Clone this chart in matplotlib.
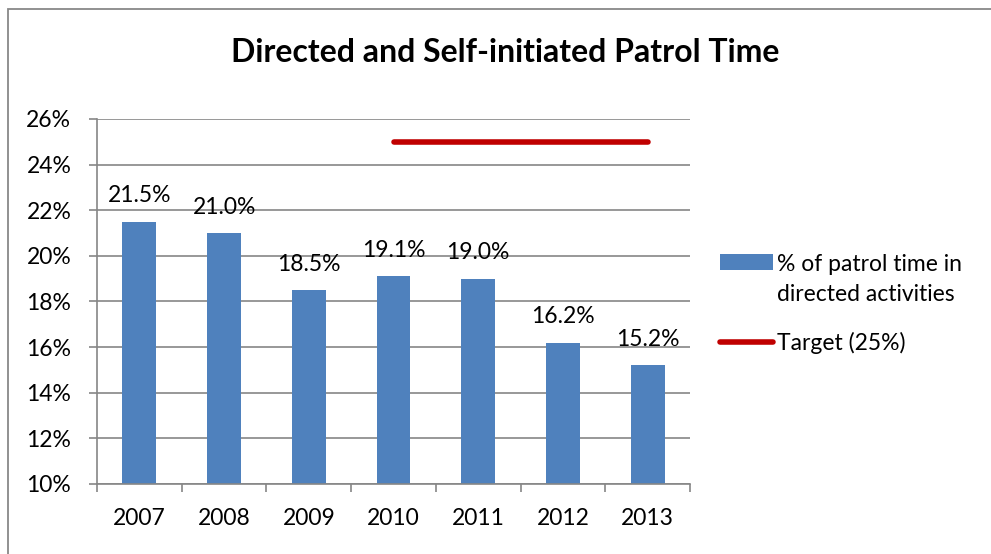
import matplotlib
matplotlib.use("Agg")
import matplotlib.pyplot as plt
from matplotlib.patches import Rectangle
from matplotlib.legend_handler import HandlerPatch
from matplotlib.ticker import FuncFormatter, FixedLocator
import numpy as np

years = ["2007", "2008", "2009", "2010", "2011", "2012", "2013"]
directed_pct = [21.5, 21.0, 18.5, 19.1, 19.0, 16.2, 15.2]
target_years = ["2010", "2011", "2012", "2013"]
target_pct = [25, 25, 25, 25]
y_ticks = [10, 12, 14, 16, 18, 20, 22, 24, 26]
series_labels = ["% of patrol time in\ndirected activities", "Target (25%)"]

plt.rcParams["font.family"] = ["Lato", "DejaVu Sans"]
BAR_COLOR = "#4F81BD"
TARGET_COLOR = "#C00000"
GRID_COLOR = "#868686"
FS = 16.5

fig = plt.figure(figsize=(9.91, 5.54), dpi=100)
ax = fig.add_axes([97 / 991, 1 - 484 / 554, (690 - 97) / 991, (484 - 119) / 554])

x = np.arange(len(years))
bars = ax.bar(x, directed_pct, width=0.40, color=BAR_COLOR, zorder=2)
tx = [years.index(y) for y in target_years]
line, = ax.plot(tx, target_pct, color=TARGET_COLOR, lw=4, solid_capstyle="round", zorder=3)

for xi, v in zip(x, directed_pct):
    ax.annotate(f"{v:.1f}%", (xi, v), xytext=(0, 11), textcoords="offset points",
                ha="center", va="bottom", fontsize=FS, color="black", zorder=4)

ax.set_xlim(-0.5, len(years) - 0.5)
ax.set_ylim(10, 26)
ax.yaxis.set_major_locator(FixedLocator(y_ticks))
ax.yaxis.set_major_formatter(FuncFormatter(lambda v, p: f"{v:.0f}%"))
ax.set_xticks(x)
ax.set_xticklabels(years)
ax.xaxis.set_minor_locator(FixedLocator(np.arange(-0.5, len(years), 1.0)))
ax.tick_params(axis="x", which="major", length=0, pad=17.5, labelsize=FS)
ax.tick_params(axis="x", which="minor", length=6, width=1.2, color=GRID_COLOR, direction="out")
ax.tick_params(axis="y", length=6, width=1.2, color=GRID_COLOR, pad=12.5, labelsize=FS)

ax.grid(axis="y", color=GRID_COLOR, lw=1.2, zorder=0)
ax.set_axisbelow(True)
for s in ["top", "right"]:
    ax.spines[s].set_visible(False)
for s in ["left", "bottom"]:
    ax.spines[s].set_color(GRID_COLOR)
    ax.spines[s].set_linewidth(1.2)

fig.text(505 / 991, 1 - 52 / 554, "Directed and Self-initiated Patrol Time",
         ha="center", va="center", fontsize=23, fontweight="bold")


# legend swatch sits level with the first line of its two-line label
def top_aligned_patch(legend, orig_handle, xdescent, ydescent, width, height, fontsize):
    return Rectangle((-xdescent, -ydescent + 13), width, height)


bar_handle = bars.patches[0]
leg = fig.legend(handles=[bar_handle, line], labels=series_labels, loc="upper left",
                 bbox_to_anchor=(720 / 991, 1 - 254 / 554), frameon=False,
                 fontsize=FS, handlelength=2.3, handleheight=0.65, handletextpad=0.2,
                 labelspacing=1.14, borderaxespad=0, borderpad=0,
                 handler_map={bar_handle: HandlerPatch(patch_func=top_aligned_patch)})
leg.get_texts()[0].set_linespacing(1.55)

# outer chart frame
fig.patches.append(Rectangle((7.5 / 991, -0.1), 1.2, 1.1 - 9 / 554, transform=fig.transFigure,
                             fill=False, edgecolor="#888888", lw=1.3))

fig.savefig("out.png", dpi=100)
